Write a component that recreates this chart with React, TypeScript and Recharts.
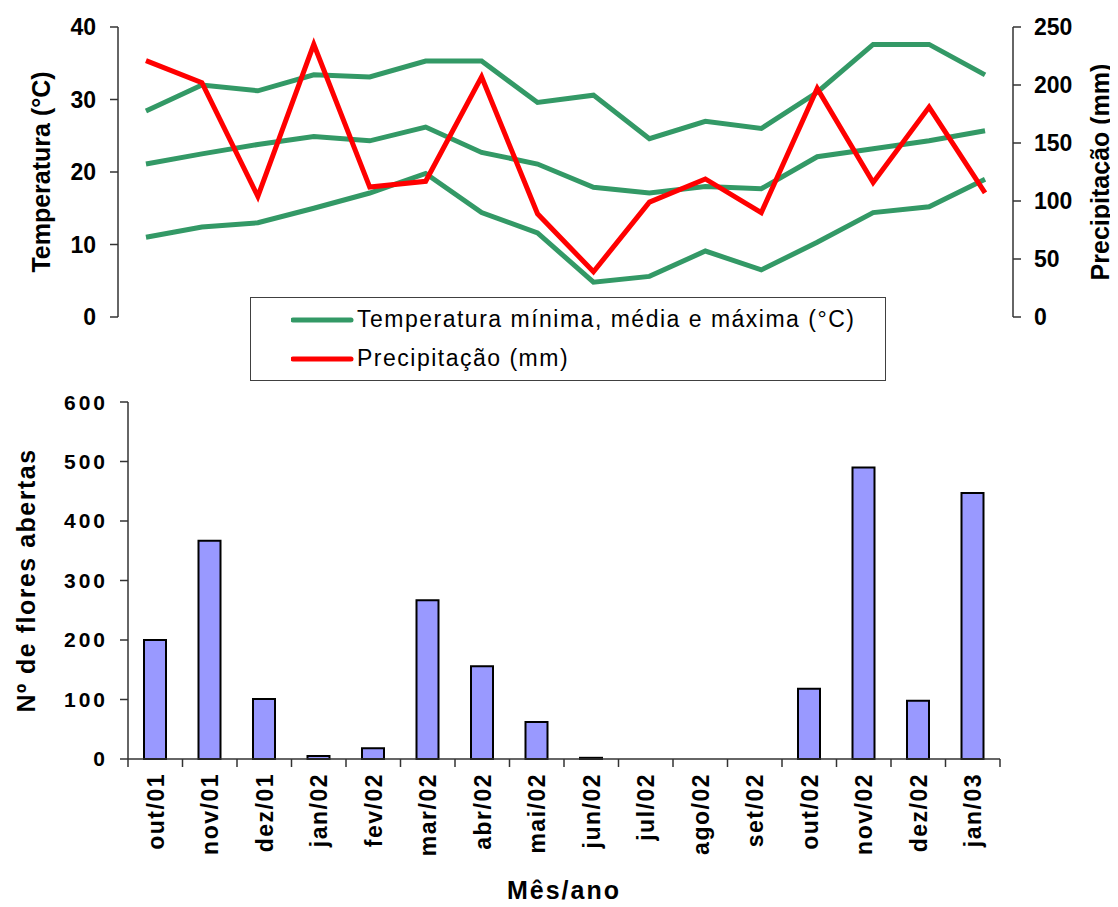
import React from "react";
import { ComposedChart, Line, Bar, XAxis, YAxis, Legend, Label } from "recharts";

const months = [
  "out/01", "nov/01", "dez/01", "jan/02", "fev/02", "mar/02", "abr/02", "mai/02",
  "jun/02", "jul/02", "ago/02", "set/02", "out/02", "nov/02", "dez/02", "jan/03",
];
const tempMin = [11.0, 12.4, 13.0, 15.0, 17.1, 19.8, 14.4, 11.6, 4.8, 5.6, 9.1, 6.5, 10.3, 14.4, 15.2, 19.0];
const tempMed = [21.1, 22.5, 23.8, 24.9, 24.3, 26.2, 22.7, 21.1, 17.9, 17.1, 18.0, 17.7, 22.1, 23.2, 24.3, 25.7];
const tempMax = [28.4, 32.0, 31.2, 33.4, 33.1, 35.3, 35.3, 29.6, 30.6, 24.6, 27.0, 26.0, 31.0, 37.6, 37.6, 33.4];
const precip = [221, 202, 104, 235, 112, 117, 207, 89, 39, 99, 119, 90, 197, 116, 181, 107];
const flores = [200, 367, 101, 5, 18, 267, 156, 62, 2, 0, 0, 0, 118, 490, 98, 447];

const climateData = months.map((m, i) => ({
  month: m,
  min: tempMin[i],
  med: tempMed[i],
  max: tempMax[i],
  prec: precip[i],
}));
const flowerData = months.map((m, i) => ({ month: m, flores: flores[i] }));

const FONT = '"Liberation Sans", Arial, sans-serif';
const GREEN = "#339966";
const RED = "#FF0000";
const AXIS = "#333";

// largura de cada categoria no gráfico de barras (eixo de 128 a 1000)
const BAND = (1000 - 128) / months.length;

function LegendBox() {
  const row = (color: string, text: string) => (
    <div style={{ display: "flex", alignItems: "center", height: 39 }}>
      <svg width={64} height={10} style={{ marginLeft: 40 }}>
        <line x1={2} y1={5} x2={60} y2={5} stroke={color} strokeWidth={5} strokeLinecap="round" />
      </svg>
      <span style={{ marginLeft: 2, fontSize: 23, letterSpacing: 1.5, color: "#000", fontFamily: FONT }}>
        {text}
      </span>
    </div>
  );
  return (
    <div
      style={{
        boxSizing: "border-box",
        width: 636,
        height: 84,
        border: "1px solid #404040",
        background: "#fff",
        paddingTop: 2,
      }}
    >
      {row(GREEN, "Temperatura mínima, média e máxima (°C)")}
      {row(RED, "Precipitação (mm)")}
    </div>
  );
}

function MonthTick(props: any) {
  const { x, y, payload, index } = props;
  const axisY = y - 14;
  return (
    <g>
      <line x1={x - BAND / 2} y1={axisY} x2={x - BAND / 2} y2={axisY + 8} stroke={AXIS} strokeWidth={1.5} />
      {index === months.length - 1 && (
        <line x1={x + BAND / 2} y1={axisY} x2={x + BAND / 2} y2={axisY + 8} stroke={AXIS} strokeWidth={1.5} />
      )}
      <text
        x={x}
        y={y}
        dy="0.36em"
        transform={`rotate(-90, ${x}, ${y})`}
        textAnchor="end"
        fontSize={23}
        fontWeight="bold"
        letterSpacing={1.5}
        fill="#000"
      >
        {payload.value}
      </text>
    </g>
  );
}

const tickTop = { fill: "#000", fontSize: 23, fontWeight: "bold" };
const titleStyle = { textAnchor: "middle", fontSize: 25, fontWeight: "bold", fill: "#000" } as any;

export default function App() {
  return (
    <div style={{ position: "relative", width: 1118, height: 907, margin: "-8px 0 0 -8px", fontFamily: FONT, background: "#fff" }}>
      <div style={{ position: "absolute", left: 0, top: 0 }}>
        <ComposedChart width={1118} height={390} data={climateData} margin={{ top: 27, right: 0, left: 0, bottom: 73 }}>
          <XAxis dataKey="month" scale="band" hide />
          <YAxis
            yAxisId="t"
            orientation="left"
            width={118}
            domain={[0, 40]}
            ticks={[0, 10, 20, 30, 40]}
            tick={tickTop}
            tickSize={8}
            tickMargin={14}
            axisLine={{ stroke: AXIS, strokeWidth: 1.5 }}
            tickLine={{ stroke: AXIS, strokeWidth: 1.5 }}
          >
            <Label value="Temperatura (°C)" angle={-90} position="insideLeft" offset={41} style={titleStyle} />
          </YAxis>
          <YAxis
            yAxisId="p"
            orientation="right"
            width={105}
            domain={[0, 250]}
            ticks={[0, 50, 100, 150, 200, 250]}
            tick={tickTop}
            tickSize={8}
            tickMargin={13}
            axisLine={{ stroke: AXIS, strokeWidth: 1.5 }}
            tickLine={{ stroke: AXIS, strokeWidth: 1.5 }}
          >
            <Label value="Precipitação (mm)" angle={-90} position="insideRight" offset={18} style={titleStyle} />
          </YAxis>
          <Legend
            layout="horizontal"
            verticalAlign="middle"
            align="center"
            content={() => <LegendBox />}
            wrapperStyle={{ left: 250, top: 297, width: 636, height: 84 }}
          />
          <Line yAxisId="t" dataKey="min" stroke={GREEN} strokeWidth={5} dot={false} isAnimationActive={false} legendType="none" />
          <Line yAxisId="t" dataKey="med" stroke={GREEN} strokeWidth={5} dot={false} isAnimationActive={false} legendType="none" />
          <Line yAxisId="t" dataKey="max" stroke={GREEN} strokeWidth={5} dot={false} isAnimationActive={false} />
          <Line yAxisId="p" dataKey="prec" stroke={RED} strokeWidth={5} dot={false} isAnimationActive={false} />
        </ComposedChart>
      </div>
      <div style={{ position: "absolute", left: 0, top: 390 }}>
        <ComposedChart width={1118} height={517} data={flowerData} margin={{ top: 12, right: 118, left: 0, bottom: 48 }}>
          <XAxis
            dataKey="month"
            height={100}
            interval={0}
            tick={<MonthTick />}
            tickLine={false}
            tickSize={8}
            tickMargin={6}
            axisLine={{ stroke: AXIS, strokeWidth: 1.5 }}
          >
            <Label value="Mês/ano" position="bottom" offset={22} style={{ fontSize: 25, fontWeight: "bold", fill: "#000", letterSpacing: 2 } as any} />
          </XAxis>
          <YAxis
            width={128}
            domain={[0, 600]}
            ticks={[0, 100, 200, 300, 400, 500, 600]}
            tick={{ fill: "#000", fontSize: 21, fontWeight: "bold", letterSpacing: 3 }}
            tickSize={8}
            tickMargin={12}
            axisLine={{ stroke: AXIS, strokeWidth: 1.5 }}
            tickLine={{ stroke: AXIS, strokeWidth: 1.5 }}
          >
            <Label
              value="Nº de flores abertas"
              angle={-90}
              position="insideLeft"
              offset={26}
              style={{ ...titleStyle, fontSize: 25, letterSpacing: 1.5 }}
            />
          </YAxis>
          <Bar dataKey="flores" fill="#9999FF" stroke="#000" strokeWidth={2} barSize={22} isAnimationActive={false} />
        </ComposedChart>
      </div>
    </div>
  );
}
